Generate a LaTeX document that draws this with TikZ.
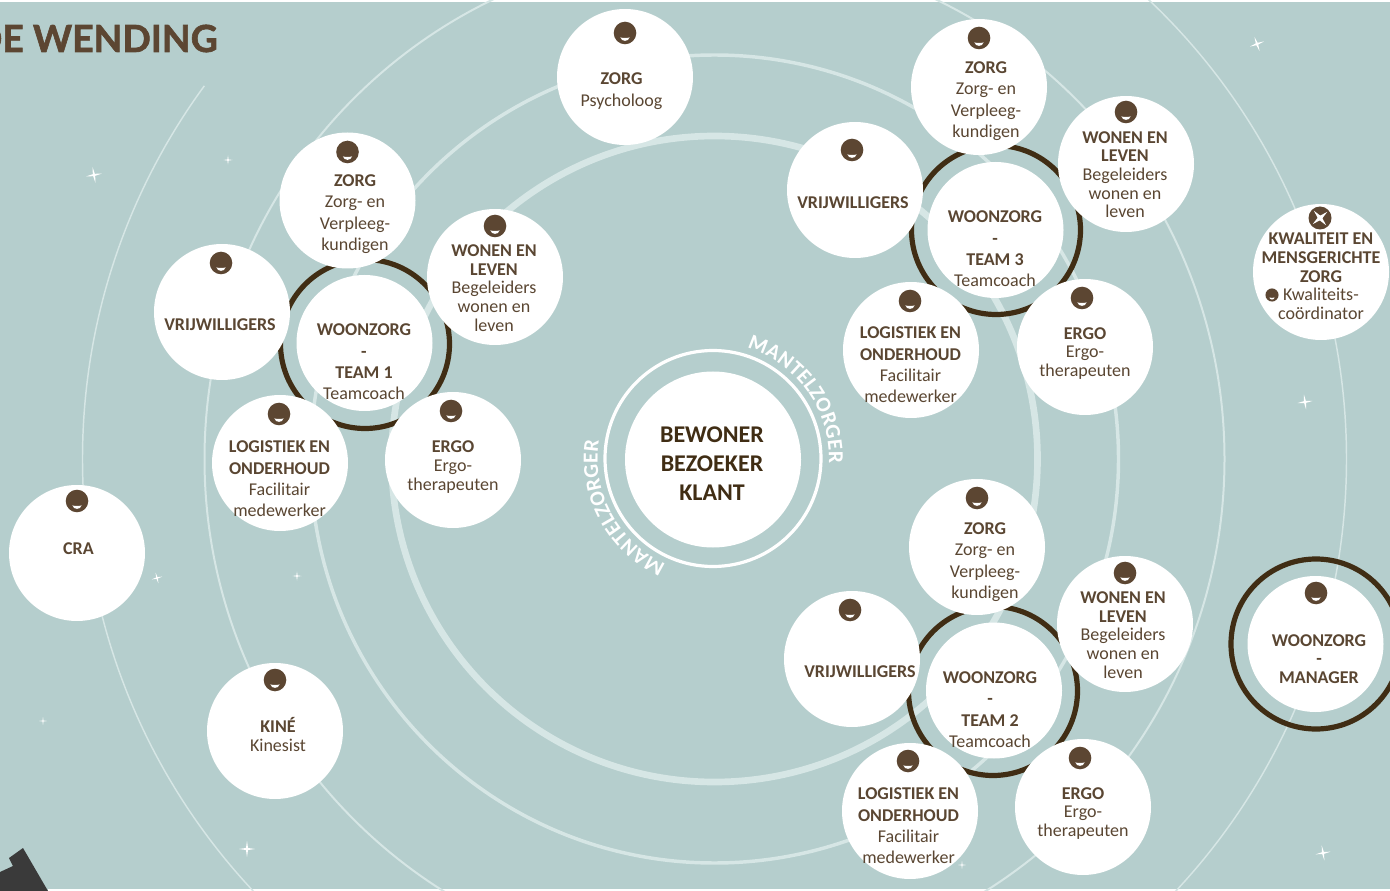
\documentclass[tikz,border=0pt]{standalone}
\usepackage{fontspec}
\setmainfont{Carlito}
\newfontfamily\headfont[FakeBold=1.6]{Lato}
\usetikzlibrary{calc,decorations.text}
\definecolor{bgteal}{HTML}{B5CECD}
\definecolor{orbitc}{HTML}{D6E6E5}
\definecolor{browntxt}{HTML}{5A4632}
\definecolor{darkbrown}{HTML}{402D14}
\definecolor{facec}{HTML}{5C4632}
\definecolor{darkgrey}{HTML}{3A3A3A}
\tikzset{
  bubble/.style={circle,fill=white,draw=none,minimum size=102pt,inner sep=0pt},
  teamring/.style={draw=darkbrown,line width=3.9pt},
  orbit/.style={draw=orbitc},
  lblA/.style={text=browntxt,align=center,inner sep=0pt,font=\fontsize{13.5}{16}\selectfont},
  lblB/.style={text=browntxt,align=center,inner sep=0pt,font=\fontsize{13.5}{14}\selectfont},
  lblC/.style={text=darkbrown,align=center,inner sep=0pt,font=\fontsize{18}{21.75}\selectfont\bfseries},
}
\newcommand{\facemark}[3][1]{%
  \begin{scope}[shift={(#2,#3)},scale=#1]
    \fill[facec] (0,0) circle[radius=11.3];
    \fill[white] (-4.6,4.4) .. controls (-2.5,5.1) and (2.5,5.1) .. (4.6,4.4) .. controls (3.6,9) and (-3.6,9) .. cycle;
  \end{scope}}
\newcommand{\sparkle}[4]{%
  \fill[white,shift={(#1,#2)},rotate=#4,scale=#3]
    (0,-1) -- (.13,-.13) -- (1,0) -- (.13,.13) -- (0,1) -- (-.13,.13) -- (-1,0) -- (-.13,-.13) -- cycle;}
\begin{document}
\begin{tikzpicture}[x=0.75pt,y=-0.75pt]
\useasboundingbox (0,0) rectangle (1390,891);
\fill[bgteal] (0,0) rectangle (1390,891);
\fill[white] (0,0) rectangle (1390,2);
\fill[white] (48,889) rectangle (1390,891);
\coordinate (c) at (714.5,459);
% orbits
\draw[orbit,line width=5pt] (c) circle[radius=323];
\draw[orbit,line width=2.6pt] (c) circle[radius=404];
\draw[orbit,line width=1.5pt] (c) circle[radius=510];
\begin{scope}
  \clip (714.5,459) -- (87,0) -- (0,0) -- (0,891) -- (1390,891) -- (1390,0) -- (1100,0) -- cycle;
  \draw[orbit,line width=1.1pt] (c) circle[radius=632];
\end{scope}
% heading
\node[anchor=base east,inner sep=0pt,text=facec,font=\headfont\fontsize{28}{30}\selectfont\bfseries] (title) at (218,52) {DE WENDING};
% corner shape
\fill[darkgrey] (0,872) -- (13,866) -- (9,858) -- (23,848) -- (48,891) -- (0,891) -- cycle;
% stars
\sparkle{94}{175}{8}{10}
\sparkle{228}{160}{4.5}{0}
\sparkle{1257}{44}{7.5}{20}
\sparkle{1305}{402}{7.5}{8}
\sparkle{157}{578}{5.5}{15}
\sparkle{297}{576}{4.5}{0}
\sparkle{43}{721}{4}{0}
\sparkle{247}{849}{8}{0}
\sparkle{1323}{853}{7.5}{10}
\sparkle{962}{865}{4}{0}
% team rings
\draw[teamring] (365,344) circle[radius=84.5];
\draw[teamring] (996,230) circle[radius=84.5];
\draw[teamring] (993,691) circle[radius=84.5];
\draw[teamring] (1316,644) circle[radius=85];
% mantelzorger ring and centre
\draw[white,line width=2.4pt] (713,458.5) circle[radius=108];
\node[bubble,minimum size=132pt] (centre) at (713,459.5) {};
\node[lblC] (centretxt) at (712,464) {BEWONER\\BEZOEKER\\KLANT};
\coordinate (m) at (713,459);
\path[decorate,decoration={text along path,text align=fit to path,text color=white,
   text={|\fontsize{16}{17}\selectfont\bfseries|MANTELZORGER}}]
   ($(m)+(73:87pt)$) arc[start angle=73,end angle=-2,radius=87pt];
\path[decorate,decoration={text along path,text align=fit to path,text color=white,
   text={|\fontsize{16}{17}\selectfont\bfseries|MANTELZORGER}}]
   ($(m)+(246:86.5pt)$) arc[start angle=246,end angle=171,radius=86.5pt];
% bubbles
\foreach \n/\x/\y in {
  psy/625/77, azorg/347.5/200.5, awonen/495/277, avrij/222/312, alog/280/463, aergo/453/460, awoon/364.5/343,
  czorg/979/87, cwonen/1126/164, cvrij/855/190, clog/911/350, cergo/1085/347, cwoon/995.5/230,
  bzorg/977/547, bwonen/1125/624, bvrij/852/659, blog/910/811, bergo/1083/807, bwoon/994/690.5,
  cra/77/553, kine/275/731, kwal/1321/272, manager/1315.5/644}
  {\node[bubble] (\n) at (\x,\y) {};}
% faces
\foreach \x/\y in {
  625/33, 347.5/152, 495/226, 221/263, 279/414, 451/411,
  979/38, 1126/112, 852/150, 910/301, 1082/298,
  977/498, 1125/573, 850/610, 908/761, 1080/758,
  77/501, 275/680, 1316/593}
  {\facemark{\x}{\y}}
% kwaliteit icon
\fill[facec] (1320,218) circle[radius=11.5];
\begin{scope}[shift={(1320,218)},rotate=40]
  \fill[white] (0,-9.5) -- (1.7,-1.7) -- (9.5,0) -- (1.7,1.7) -- (0,9.5) -- (-1.7,1.7) -- (-9.5,0) -- (-1.7,-1.7) -- cycle;
\end{scope}
\facemark[0.58]{1272}{295}
% labels
\node[lblA] at (621.5,91) (psytxt) {\textbf{ZORG}\\Psycholoog};
\node[lblA] at (355,214) (azorgtxt) {\textbf{ZORG}\\Zorg- en\\Verpleeg-\\kundigen};
\node[lblB] at (494,288) (awonentxt) {\textbf{WONEN EN}\\\textbf{LEVEN}\\Begeleiders\\wonen en\\leven};
\node[lblA] at (220,325) (avrijtxt) {\textbf{VRIJWILLIGERS}};
\node[lblA] at (279.5,479) (alogtxt) {\textbf{LOGISTIEK EN}\\\textbf{ONDERHOUD}\\Facilitair\\medewerker};
\node[lblB] at (453,467) (aergotxt) {\textbf{ERGO}\\Ergo-\\therapeuten};
\node[lblA] at (364,362) (awoontxt) {\textbf{WOONZORG}\\\textbf{-}\\\textbf{TEAM 1}\\Teamcoach};

\node[lblA] at (986,101) (czorgtxt) {\textbf{ZORG}\\Zorg- en\\Verpleeg-\\kundigen};
\node[lblB] at (1125,174.5) (cwonentxt) {\textbf{WONEN EN}\\\textbf{LEVEN}\\Begeleiders\\wonen en\\leven};
\node[lblA] at (853,203) (cvrijtxt) {\textbf{VRIJWILLIGERS}};
\node[lblA] at (910.5,365) (clogtxt) {\textbf{LOGISTIEK EN}\\\textbf{ONDERHOUD}\\Facilitair\\medewerker};
\node[lblB] at (1085,353.5) (cergotxt) {\textbf{ERGO}\\Ergo-\\therapeuten};
\node[lblA] at (995,249) (cwoontxt) {\textbf{WOONZORG}\\\textbf{-}\\\textbf{TEAM 3}\\Teamcoach};

\node[lblA] at (985,562) (bzorgtxt) {\textbf{ZORG}\\Zorg- en\\Verpleeg-\\kundigen};
\node[lblB] at (1123,635) (bwonentxt) {\textbf{WONEN EN}\\\textbf{LEVEN}\\Begeleiders\\wonen en\\leven};
\node[lblA] at (860,672) (bvrijtxt) {\textbf{VRIJWILLIGERS}};
\node[lblA] at (908.5,826) (blogtxt) {\textbf{LOGISTIEK EN}\\\textbf{ONDERHOUD}\\Facilitair\\medewerker};
\node[lblB] at (1083,813.5) (bergotxt) {\textbf{ERGO}\\Ergo-\\therapeuten};
\node[lblA] at (990,709.5) (bwoontxt) {\textbf{WOONZORG}\\\textbf{-}\\\textbf{TEAM 2}\\Teamcoach};

\node[lblA] at (78.5,549) (cratxt) {\textbf{CRA}};
\node[lblB] at (278,734.5) (kinetxt) {\textbf{KINÉ}\\Kinesist};
\node[lblB] at (1321,276.5) (kwaltxt) {\textbf{KWALITEIT EN}\\\textbf{MENSGERICHTE}\\\textbf{ZORG}\\Kwaliteits-\\coördinator};
\node[lblB] at (1319,659) (managertxt) {\textbf{WOONZORG}\\\textbf{-}\\\textbf{MANAGER}};
\end{tikzpicture}
\end{document}
